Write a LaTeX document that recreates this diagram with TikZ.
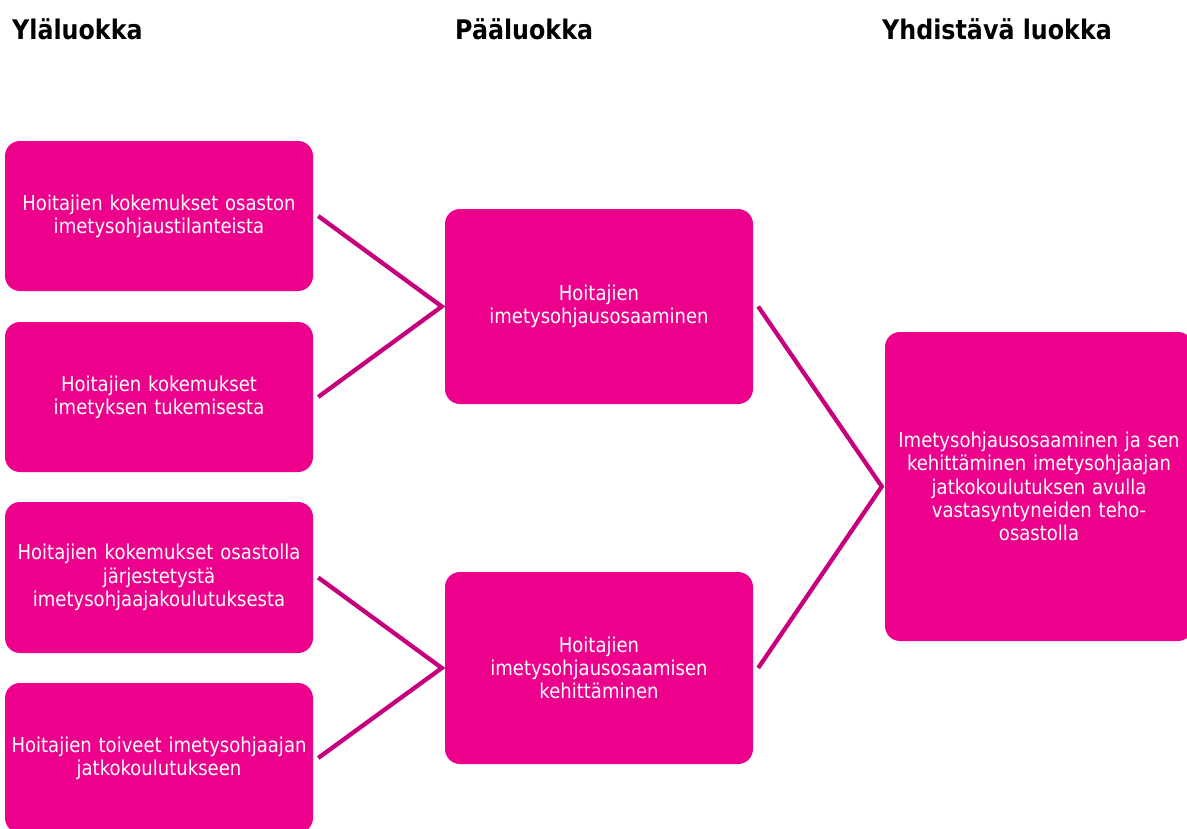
\documentclass[tikz,border=0pt]{standalone}
\usepackage{fontspec}
\setmainfont{DejaVu Sans}[FakeStretch=0.88]
\usepackage{tikz}
\definecolor{boxpink}{HTML}{EC008C}
\definecolor{linepink}{HTML}{C7007D}
\tikzstyle{pinkbox}=[rectangle,rounded corners=15pt,fill=boxpink,
                     text=white,align=center,inner sep=1pt,
                     minimum width=308pt,text width=306pt,
                     font=\fontsize{20.5}{23.3}\selectfont]
\tikzstyle{heading}=[anchor=base west,inner sep=0pt,
                     font=\fontsize{27}{29}\selectfont\bfseries]
\tikzstyle{conn}=[draw=linepink,line width=4.3pt]

\begin{document}
\begin{tikzpicture}[x=1pt,y=-1pt]
    \useasboundingbox (0,0) rectangle (1187,828);
    % otsikot
    \node (h1) at (12, 39) [heading]{Yläluokka};
    \node (h2) at (455, 39) [heading]{Pääluokka};
    \node (h3) at (882, 39) [heading]{Yhdistävä luokka};
    % yläluokat
    \node (y1) at (159, 216) [pinkbox,minimum height=150pt]
      {Hoitajien kokemukset osaston\\imetysohjaustilanteista};
    \node (y2) at (159, 397) [pinkbox,minimum height=150pt]
      {Hoitajien kokemukset\\imetyksen tukemisesta};
    \node (y3) at (159, 577.5) [pinkbox,minimum height=151pt]
      {Hoitajien kokemukset osastolla\\järjestetystä\\imetysohjaajakoulutuksesta};
    \node (y4) at (159, 758) [pinkbox,minimum height=150pt]
      {Hoitajien toiveet imetysohjaajan\\jatkokoulutukseen};
    % pääluokat
    \node (p1) at (599, 306.5) [pinkbox,minimum height=195pt]
      {Hoitajien\\imetysohjausosaaminen};
    \node (p2) at (599, 668) [pinkbox,minimum height=192pt]
      {Hoitajien\\imetysohjausosaamisen\\kehittäminen};
    % yhdistävä luokka
    \node (k1) at (1039, 486.5) [pinkbox,minimum height=309pt]
      {Imetysohjausosaaminen ja sen\\kehittäminen imetysohjaajan\\jatkokoulutuksen avulla\\vastasyntyneiden teho-\\osastolla};
    % yhdysviivat
    \draw[conn] ([xshift=5pt]y1.east) -- ([xshift=-3pt]p1.west) -- ([xshift=5pt]y2.east);
    \draw[conn] ([xshift=5pt]y3.east) -- ([xshift=-3pt]p2.west) -- ([xshift=5pt]y4.east);
    \draw[conn] ([xshift=5pt]p1.east) -- ([xshift=-3pt]k1.west) -- ([xshift=5pt]p2.east);
\end{tikzpicture}
\end{document}
